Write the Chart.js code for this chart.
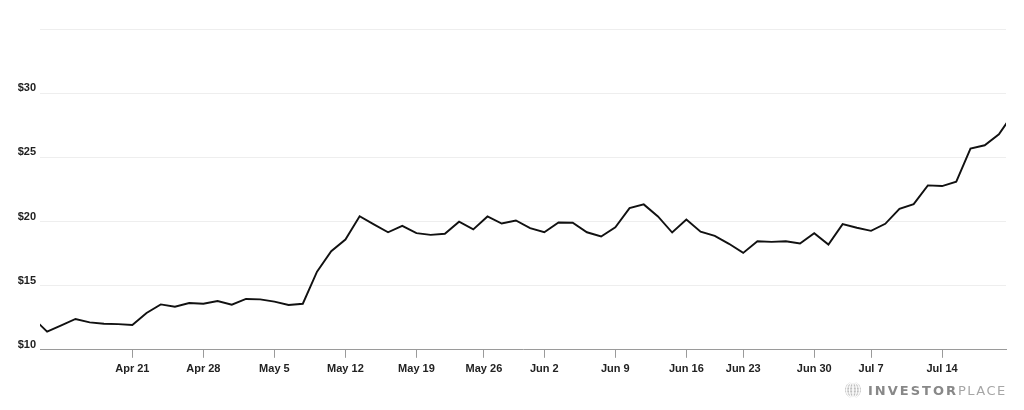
<!DOCTYPE html>
<html>
<head>
  <title>Share price</title>
  <script src="https://cdn.jsdelivr.net/npm/chart.js"></script>
  <style>
    body {
      margin: 0;
      background: #fff;
    }
  </style>
</head>
<body>
  <canvas id="chartCanvas" width="1024" height="410"></canvas>

  <script>
    // trading days (first and last are only partly visible, clipped at the edges)
    const tradeDates = [
      '2025-04-09', '2025-04-10', '2025-04-11', '2025-04-14', '2025-04-15', '2025-04-16', '2025-04-17',
      '2025-04-21', '2025-04-22', '2025-04-23', '2025-04-24', '2025-04-25',
      '2025-04-28', '2025-04-29', '2025-04-30', '2025-05-01', '2025-05-02',
      '2025-05-05', '2025-05-06', '2025-05-07', '2025-05-08', '2025-05-09',
      '2025-05-12', '2025-05-13', '2025-05-14', '2025-05-15', '2025-05-16',
      '2025-05-19', '2025-05-20', '2025-05-21', '2025-05-22', '2025-05-23',
      '2025-05-27', '2025-05-28', '2025-05-29', '2025-05-30',
      '2025-06-02', '2025-06-03', '2025-06-04', '2025-06-05', '2025-06-06',
      '2025-06-09', '2025-06-10', '2025-06-11', '2025-06-12', '2025-06-13',
      '2025-06-16', '2025-06-17', '2025-06-18', '2025-06-20',
      '2025-06-23', '2025-06-24', '2025-06-25', '2025-06-26', '2025-06-27',
      '2025-06-30', '2025-07-01', '2025-07-02', '2025-07-03',
      '2025-07-07', '2025-07-08', '2025-07-09', '2025-07-10', '2025-07-11',
      '2025-07-14', '2025-07-15', '2025-07-16', '2025-07-17', '2025-07-18', '2025-07-21'
    ];

    const closePrices = [
      12.50, 11.41, 11.90, 12.40, 12.14, 12.03, 12.00,
      11.93, 12.87, 13.54, 13.36, 13.65,
      13.59, 13.80, 13.52, 13.96, 13.93,
      13.75, 13.49, 13.59, 16.09, 17.68,
      18.59, 20.41, 19.77, 19.16, 19.66,
      19.09, 18.96, 19.04, 19.98, 19.38,
      20.39, 19.84, 20.08, 19.48,
      19.16, 19.92, 19.90, 19.16, 18.83,
      19.55, 21.04, 21.33, 20.39, 19.14,
      20.16, 19.20, 18.88, 18.26,
      17.55, 18.46, 18.41, 18.46, 18.28,
      19.09, 18.20, 19.79, 19.51,
      19.27, 19.82, 20.99, 21.35, 22.81,
      22.76, 23.10, 25.68, 25.94, 26.80, 28.40
    ];

    const tickDates = ['2025-04-21', '2025-04-28', '2025-05-05', '2025-05-12', '2025-05-19', '2025-05-26',
      '2025-06-02', '2025-06-09', '2025-06-16', '2025-06-23', '2025-06-30', '2025-07-07', '2025-07-14'];
    const tickLabels = ['Apr 21', 'Apr 28', 'May 5', 'May 12', 'May 19', 'May 26',
      'Jun 2', 'Jun 9', 'Jun 16', 'Jun 23', 'Jun 30', 'Jul 7', 'Jul 14'];

    const yTicks = [10, 15, 20, 25, 30, 35];

    const dayMs = d => Date.parse(d + 'T00:00:00Z');

    // position of a calendar date on the trading-day axis (holidays fall between neighbours)
    function datePos(d) {
      const t = dayMs(d);
      for (let i = 0; i < tradeDates.length - 1; i++) {
        const a = dayMs(tradeDates[i]);
        const b = dayMs(tradeDates[i + 1]);
        if (t >= a && t < b) return i + (t - a) / (b - a);
      }
      return tradeDates.length - 1;
    }

    const points = closePrices.map((p, i) => ({ x: i, y: p }));

    const logoPlugin = {
      id: 'logo',
      afterDraw(chart) {
        const ctx = chart.ctx;
        ctx.save();
        // globe
        const cx = 853, cy = 390, r = 8;
        ctx.fillStyle = '#bdbdbd';
        ctx.beginPath();
        ctx.arc(cx, cy, r, 0, Math.PI * 2);
        ctx.fill();
        ctx.strokeStyle = '#ffffff';
        ctx.lineWidth = 0.8;
        for (let k = -2; k <= 2; k++) {
          ctx.beginPath();
          ctx.ellipse(cx, cy, Math.abs(k) * 3 + 0.5, r, 0, 0, Math.PI * 2);
          ctx.stroke();
          ctx.beginPath();
          ctx.moveTo(cx - r, cy + k * 3);
          ctx.lineTo(cx + r, cy + k * 3);
          ctx.stroke();
        }
        // wordmark
        ctx.textBaseline = 'alphabetic';
        ctx.font = 'bold 13px "DejaVu Sans"';
        ctx.letterSpacing = '2px';
        ctx.fillStyle = '#888888';
        ctx.fillText('INVESTOR', 868, 395);
        const w = ctx.measureText('INVESTOR').width;
        ctx.font = '13px "DejaVu Sans"';
        ctx.letterSpacing = '1.5px';
        ctx.fillStyle = '#a6a6a6';
        ctx.fillText('PLACE', 868 + w, 395);
        ctx.restore();
      }
    };

    const tickFont = { family: '"Liberation Sans", Arial, sans-serif', size: 11, weight: 'bold' };

    new Chart(document.getElementById('chartCanvas'), {
      type: 'line',
      data: {
        datasets: [{
          data: points,
          borderColor: '#111111',
          borderWidth: 1.9,
          pointRadius: 0,
          tension: 0,
          fill: false,
          clip: 0
        }]
      },
      options: {
        responsive: false,
        animation: false,
        layout: {
          padding: { left: 0, right: 18, top: 29, bottom: 29 }
        },
        plugins: {
          legend: { display: false },
          tooltip: { enabled: false }
        },
        scales: {
          x: {
            type: 'linear',
            min: 0.5,
            max: tradeDates.length - 1.5,
            afterBuildTicks: scale => {
              scale.ticks = tickDates.map(d => ({ value: datePos(d) }));
            },
            grid: {
              drawOnChartArea: false,
              drawTicks: true,
              tickLength: 8,
              color: '#9a9a9a'
            },
            border: { display: true, color: '#9a9a9a', width: 1 },
            ticks: {
              autoSkip: false,
              maxRotation: 0,
              padding: 5,
              color: '#222',
              font: tickFont,
              callback: (v, i) => tickLabels[i]
            }
          },
          y: {
            min: yTicks[0],
            max: yTicks[yTicks.length - 1],
            afterBuildTicks: scale => {
              scale.ticks = yTicks.map(v => ({ value: v }));
            },
            afterFit: scale => {
              scale.width = 40;
            },
            grid: {
              drawTicks: false,
              color: '#eeeeee'
            },
            border: { display: false },
            ticks: {
              padding: 4,
              labelOffset: -5,
              color: '#222',
              font: tickFont,
              callback: v => (v === 35 ? '' : '$' + v)
            }
          }
        }
      },
      plugins: [logoPlugin]
    });
  </script>
</body>
</html>
